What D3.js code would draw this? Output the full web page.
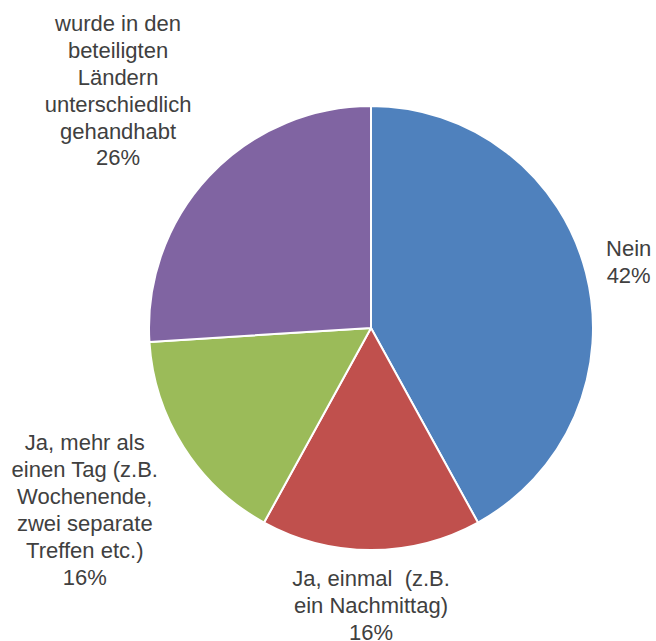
<!DOCTYPE html>
<html>
<head>
<meta charset="utf-8">
<script src="https://cdn.jsdelivr.net/npm/d3@7"></script>
<style>
	body { margin: 0; background: #ffffff; }
	svg { display: block; }
</style>
</head>
<body>
<svg id="pie-chart"></svg>
<script>
// categories (each label line separately) and share values in percent
const categories = [
	['Nein'],
	['Ja, einmal  (z.B.', 'ein Nachmittag)'],
	['Ja, mehr als', 'einen Tag (z.B.', 'Wochenende,', 'zwei separate', 'Treffen etc.)'],
	['wurde in den', 'beteiligten', 'Ländern', 'unterschiedlich', 'gehandhabt'],
];
const values = [42, 16, 16, 26];
const percentLabels = ['42%', '16%', '16%', '26%'];
const colors = ['#4F81BD', '#C0504D', '#9BBB59', '#8064A2'];

const width = 656;
const height = 641;
const cx = 371;
const cy = 328;
const radius = 222;

// where each label block is centered (distance from the pie center, along the slice mid angle)
const labelRadius = [266, 277, 339, 347];
const lineHeight = 26.9;

const svg = d3
	.select('#pie-chart')
	.attr('width', width)
	.attr('height', height)
	.attr('viewBox', [0, 0, width, height]);

const data = values.map((v, i) => ({
	lines: categories[i].concat([percentLabels[i]]),
	value: v,
	color: colors[i],
}));

const pie = d3
	.pie()
	.sort(null)
	.value((d) => d.value);

const arc = d3.arc().innerRadius(0).outerRadius(radius);

const arcs = pie(data);

const g = svg.append('g').attr('transform', `translate(${cx},${cy})`);

// slices
g.selectAll('path')
	.data(arcs)
	.join('path')
	.attr('d', arc)
	.attr('fill', (d) => d.data.color)
	.attr('stroke', '#ffffff')
	.attr('stroke-width', 2)
	.attr('stroke-linejoin', 'round');

// labels
const labels = g
	.selectAll('text')
	.data(arcs)
	.join('text')
	.attr('text-anchor', 'middle')
	.attr('font-family', '"Liberation Sans", Arial, sans-serif')
	.attr('font-size', 22)
	.attr('fill', '#404040')
	.style('white-space', 'pre')
	.attr('transform', (d, i) => {
		const a = (d.startAngle + d.endAngle) / 2;
		const r = labelRadius[i];
		return `translate(${Math.sin(a) * r},${-Math.cos(a) * r})`;
	});

labels
	.selectAll('tspan')
	.data((d) =>
		d.data.lines.map((t, j, all) => ({
			t,
			dy: (j - (all.length - 1) / 2) * lineHeight,
		}))
	)
	.join('tspan')
	.attr('x', 0)
	.attr('y', (d) => d.dy)
	.attr('dy', '0.35em')
	.text((d) => d.t);
</script>
</body>
</html>
